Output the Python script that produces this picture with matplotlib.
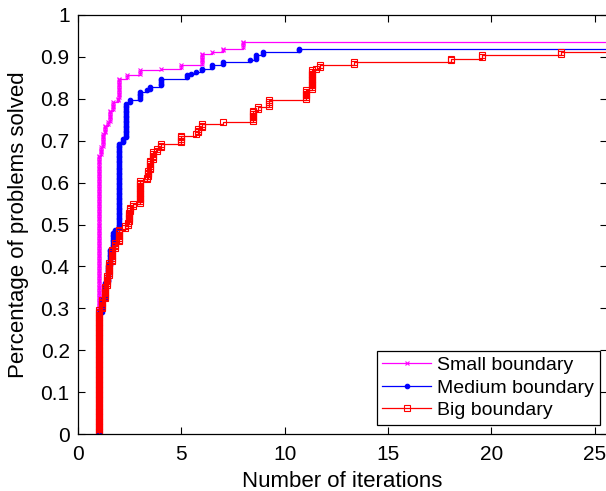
import numpy as np
import matplotlib
matplotlib.use("Agg")
import matplotlib.pyplot as plt

plt.rcParams['font.family'] = ['Liberation Sans', 'DejaVu Sans']

# Performance profile: ratio where each step happens
# and the fraction of problems solved after that step.
N_PROBLEMS = 250
XMAX = 25.6

small_ratio = [1.0, 1.09, 1.19, 1.30, 1.47, 1.55, 1.71, 1.95, 2.0, 2.35, 3.0,
               4.0, 5.0, 6.0, 6.02, 6.5, 7.0, 8.0]
small_frac = [0.665, 0.685, 0.717, 0.737, 0.745, 0.773, 0.793, 0.80, 0.849,
              0.854, 0.867, 0.872, 0.880, 0.888, 0.908, 0.912, 0.920, 0.934]

medium_ratio = [1.0, 1.14, 1.30, 1.47, 1.55, 1.71, 1.79, 2.0, 2.19, 2.30, 2.51,
                3.0, 3.32, 3.48, 4.0, 5.25, 5.49, 5.73, 6.02, 6.5, 7.02, 8.34,
                8.63, 8.95, 10.68]
medium_frac = [0.29, 0.32, 0.36, 0.40, 0.438, 0.478, 0.49, 0.693, 0.705, 0.789,
               0.797, 0.817, 0.821, 0.827, 0.849, 0.855, 0.859, 0.864, 0.872,
               0.878, 0.886, 0.892, 0.904, 0.912, 0.918]

big_ratio = [1.0, 1.14, 1.30, 1.39, 1.51, 1.63, 1.79, 2.0, 2.27, 2.43, 2.48,
             2.51, 2.67, 3.0, 3.32, 3.40, 3.48, 3.64, 3.80, 4.0, 5.0, 5.73,
             5.8, 6.02, 7.02, 8.47, 8.71, 9.24, 11.01, 11.34, 11.53, 11.69,
             13.35, 18.02, 19.53, 23.37]
big_frac = [0.294, 0.318, 0.35, 0.374, 0.406, 0.438, 0.454, 0.486, 0.498,
            0.506, 0.526, 0.541, 0.549, 0.605, 0.613, 0.629, 0.653, 0.673,
            0.681, 0.693, 0.713, 0.717, 0.729, 0.741, 0.745, 0.773, 0.781,
            0.797, 0.821, 0.868, 0.872, 0.880, 0.886, 0.896, 0.906, 0.912]


def expand(ratio, frac):
    # one point per problem, like the original profile
    k = np.round(np.asarray(frac) * N_PROBLEMS).astype(int)
    counts = np.diff(np.concatenate([[0], k]))
    xs = np.repeat(ratio, np.clip(counts, 0, None))
    ys = np.arange(1, len(xs) + 1) / N_PROBLEMS
    xs = np.concatenate([[ratio[0]], xs])
    ys = np.concatenate([[0.0], ys])
    return xs, ys


fig = plt.figure(figsize=(6.06, 4.91), dpi=100)
ax = fig.add_axes([78 / 606, 57 / 491, 1 - 78 / 606 + 0.002, 419 / 491])

series = [
    (small_ratio, small_frac, 'Small boundary', '#ff00ff', 'x', 3.5, '#ff00ff'),
    (medium_ratio, medium_frac, 'Medium boundary', '#0000ff', '.', 6.5, '#0000ff'),
    (big_ratio, big_frac, 'Big boundary', '#ff0000', 's', 4.2, 'none'),
]
for ratio, frac, label, color, marker, ms, mfc in series:
    xs, ys = expand(ratio, frac)
    ax.plot(np.append(xs, XMAX + 1), np.append(ys, ys[-1]), drawstyle='steps-post',
            color=color, lw=0.9, marker=marker, markersize=ms,
            markerfacecolor=mfc, markeredgecolor=color, markeredgewidth=0.8,
            markevery=list(range(len(xs))), label=label)

ax.set_xlim(0, XMAX)
ax.set_ylim(0, 1)
ax.set_xticks([0, 5, 10, 15, 20, 25])
ax.set_yticks(np.arange(0, 1.01, 0.1))
ax.set_yticklabels(['0', '0.1', '0.2', '0.3', '0.4', '0.5', '0.6', '0.7', '0.8', '0.9', '1'])
ax.tick_params(direction='in', length=5, width=0.8, top=True, right=True,
               labelsize=15)
ax.tick_params(axis='x', pad=8)
ax.tick_params(axis='y', pad=6)
for s in ax.spines.values():
    s.set_linewidth(0.9)

ax.set_xlabel('Number of iterations', fontsize=16, labelpad=5)
ax.set_ylabel('Percentage of problems solved', fontsize=16, labelpad=8)

leg = ax.legend(loc='lower right', bbox_to_anchor=(0.993, 0.012), fontsize=14,
                fancybox=False, framealpha=1, edgecolor='black',
                handlelength=2.5, borderpad=0.3, labelspacing=0.25,
                handletextpad=0.3, borderaxespad=0.2)
leg.get_frame().set_linewidth(0.9)

fig.savefig('out.png', dpi=100)
